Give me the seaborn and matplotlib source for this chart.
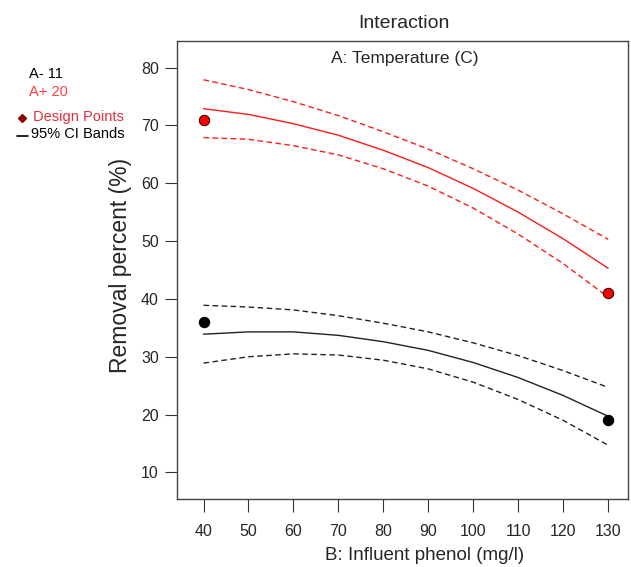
import numpy as np
import pandas as pd
import matplotlib
matplotlib.use("Agg")
import matplotlib.pyplot as plt
import seaborn as sns

# values
phenol = [40, 50, 60, 70, 80, 90, 100, 110, 120, 130]

high_fit = [72.9, 71.9, 70.3, 68.3, 65.7, 62.7, 59.1, 55.0, 50.4, 45.3]
high_upper = [77.9, 76.2, 74.1, 71.7, 68.9, 65.9, 62.5, 58.8, 54.7, 50.3]
high_lower = [67.9, 67.6, 66.5, 64.9, 62.5, 59.5, 55.7, 51.2, 46.1, 40.3]

low_fit = [33.9, 34.3, 34.3, 33.7, 32.6, 31.1, 29.0, 26.4, 23.3, 19.7]
low_upper = [38.9, 38.6, 38.1, 37.1, 35.8, 34.3, 32.4, 30.2, 27.6, 24.7]
low_lower = [28.9, 30.0, 30.5, 30.3, 29.4, 27.9, 25.6, 22.6, 19.0, 14.7]

design_x = [40, 130]
design_high = [71.0, 41.0]
design_low = [36.0, 19.0]

x_ticks = [40, 50, 60, 70, 80, 90, 100, 110, 120, 130]
y_ticks = [10, 20, 30, 40, 50, 60, 70, 80]

sns.set_style("white")
plt.rcParams["font.family"] = ["Liberation Sans", "DejaVu Sans"]

fig = plt.figure(figsize=(6.31, 5.67), dpi=100)
ax = fig.add_axes([0.2805, 0.1199, 0.7147, 0.8078])

red = "#ff1a1a"
black = "#222222"

for fit, up, lo, col in [(high_fit, high_upper, high_lower, red),
                         (low_fit, low_upper, low_lower, black)]:
    sns.lineplot(x=phenol, y=fit, ax=ax, color=col, linewidth=1.0)
    for band in (up, lo):
        sns.lineplot(x=phenol, y=band, ax=ax, color=col, linewidth=1.0,
                     linestyle=(0, (4, 2.5)))

sns.scatterplot(x=design_x, y=design_high, ax=ax, color="red", edgecolor="#400000",
                s=55, linewidth=0.8, zorder=5)
sns.scatterplot(x=design_x, y=design_low, ax=ax, color="black", edgecolor="black",
                s=55, linewidth=0.8, zorder=5)

ax.set_xlim(34.1, 134.4)
ax.set_ylim(5.4, 84.6)
ax.set_xticks(x_ticks)
ax.set_yticks(y_ticks)
ax.tick_params(axis="both", direction="out", length=9, width=0.8, color="#333333",
               labelsize=11.5, bottom=True, left=True)
ax.tick_params(axis="x", pad=9)
ax.tick_params(axis="y", pad=4)
for sp in ax.spines.values():
    sp.set_color("#444444")
    sp.set_linewidth(1.0)

ax.set_ylabel("")
ax.set_xlabel("")
fig.text(120 / 631, 1 - 265 / 567, "Removal percent (%)", fontsize=16.5,
         rotation=90, ha="center", va="center")
fig.text(425 / 631, 1 - 556 / 567, "B: Influent phenol (mg/l)", fontsize=13.5,
         ha="center", va="center")
fig.text(404 / 631, 1 - 24 / 567, "Interaction", fontsize=14, ha="center", va="center")
ax.text(0.505, 0.978, "A: Temperature (C)", transform=ax.transAxes, fontsize=12.5,
        ha="center", va="top")

# legend block at the left
fig.text(29 / 631, 1 - 74 / 567, "A- 11", fontsize=10.5, color="black", va="center")
fig.text(29 / 631, 1 - 92 / 567, "A+ 20", fontsize=10.5, color="#ff3b3b", va="center")
fig.text(33 / 631, 1 - 117 / 567, "Design Points", fontsize=10.5, color="#e0303a", va="center")
fig.text(31 / 631, 1 - 134 / 567, "95% CI Bands", fontsize=10.5, color="black", va="center")
fig.lines.append(plt.Line2D([21.7 / 631], [1 - 117.5 / 567], marker="D", markersize=4,
                            color="#8b0000", transform=fig.transFigure))
fig.lines.append(plt.Line2D([17 / 631, 28 / 631], [1 - 135.5 / 567, 1 - 135.5 / 567],
                            color="black", linewidth=1.2, transform=fig.transFigure))

fig.savefig("out.png", dpi=100)
